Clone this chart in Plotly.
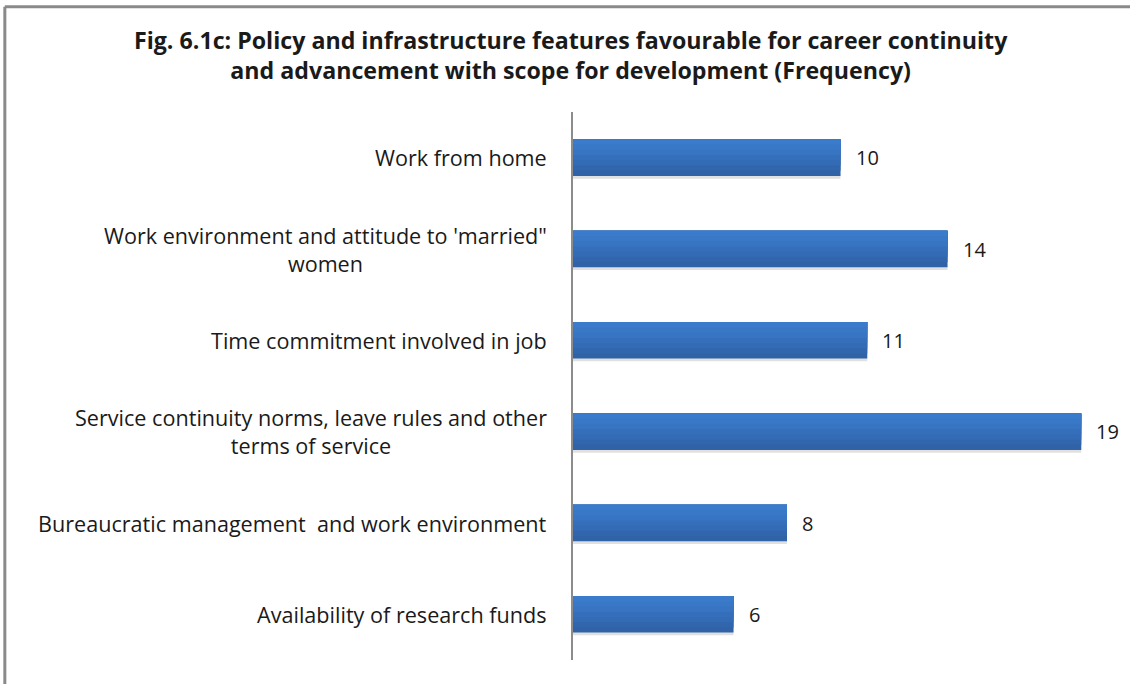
import plotly.graph_objects as go

# Survey categories (top to bottom) and response frequencies
categories = [
    "Work from home",
    "Work environment and attitude to 'married\"<br>women",
    "Time commitment involved in job",
    "Service continuity norms, leave rules and other<br>terms of service",
    "Bureaucratic management  and work environment",
    "Availability of research funds",
]
frequency = [10, 14, 11, 19, 8, 6]

FONT = "'Open Sans', 'Noto Sans', sans-serif"
BAR_W = 0.40

fig = go.Figure()

# Soft drop shadow under each bar
fig.add_trace(go.Bar(
    y=categories, x=frequency, orientation="h",
    width=BAR_W, offset=-BAR_W / 2 + 0.03,
    marker=dict(color="rgba(0,0,0,0.12)", line=dict(width=0)),
    hoverinfo="skip", showlegend=False,
))

# Vertical gradient on the bars, built from stacked horizontal bands
bands = ["#2f62a6", "#3166ad", "#336bb4", "#356fbb", "#3774c2", "#3978c7", "#3b7bcb"]
n = len(bands)
for i, c in enumerate(bands):
    h = BAR_W * (n - i) / n
    fig.add_trace(go.Bar(
        y=categories, x=frequency, orientation="h",
        width=h, offset=-BAR_W / 2,
        marker=dict(color=c, line=dict(width=0)),
        hoverinfo="skip", showlegend=False,
    ))

# Category labels, centred line by line and right-aligned as a block
for cat in categories:
    fig.add_annotation(
        x=0, xref="paper", y=cat, yref="y",
        text=cat, showarrow=False, xanchor="right", yanchor="middle",
        align="center", xshift=-24,
        font=dict(family=FONT, size=21.6, color="#1a1a1a"),
    )

# Value labels at the end of each bar
for cat, v in zip(categories, frequency):
    fig.add_annotation(
        x=v, y=cat, text=str(v), showarrow=False,
        xanchor="left", yanchor="middle", xshift=13,
        font=dict(family=FONT, size=20, color="#1a1a1a"),
    )

# Outer chart frame (top and left edges)
fig.add_shape(type="line", xref="paper", yref="paper",
              x0=-1.062, x1=1.1, y0=1.192, y1=1.192,
              line=dict(color="#8a8a8a", width=3))
fig.add_shape(type="line", xref="paper", yref="paper",
              x0=-1.062, x1=-1.062, y0=1.192, y1=-0.1,
              line=dict(color="#8a8a8a", width=3))

fig.update_layout(
    width=1130, height=684,
    margin=dict(l=573, r=22, t=112, b=24),
    barmode="overlay",
    paper_bgcolor="white", plot_bgcolor="white",
    title=dict(
        text="<b>Fig. 6.1c: Policy and infrastructure features favourable for career continuity<br>and advancement with scope for development (Frequency)</b>",
        x=0.505, xref="container", xanchor="center",
        y=0.929, yref="container", yanchor="middle",
        font=dict(family=FONT, size=23.2, color="#1a1a1a"),
    ),
    xaxis=dict(range=[0, 20], visible=False, fixedrange=True),
    yaxis=dict(
        categoryorder="array", categoryarray=categories,
        autorange="reversed", showticklabels=False,
        showline=True, linecolor="#8c8c8c", linewidth=1.5,
        ticks="", showgrid=False, zeroline=False,
    ),
    font=dict(family=FONT),
)

fig.write_html("out.html")
